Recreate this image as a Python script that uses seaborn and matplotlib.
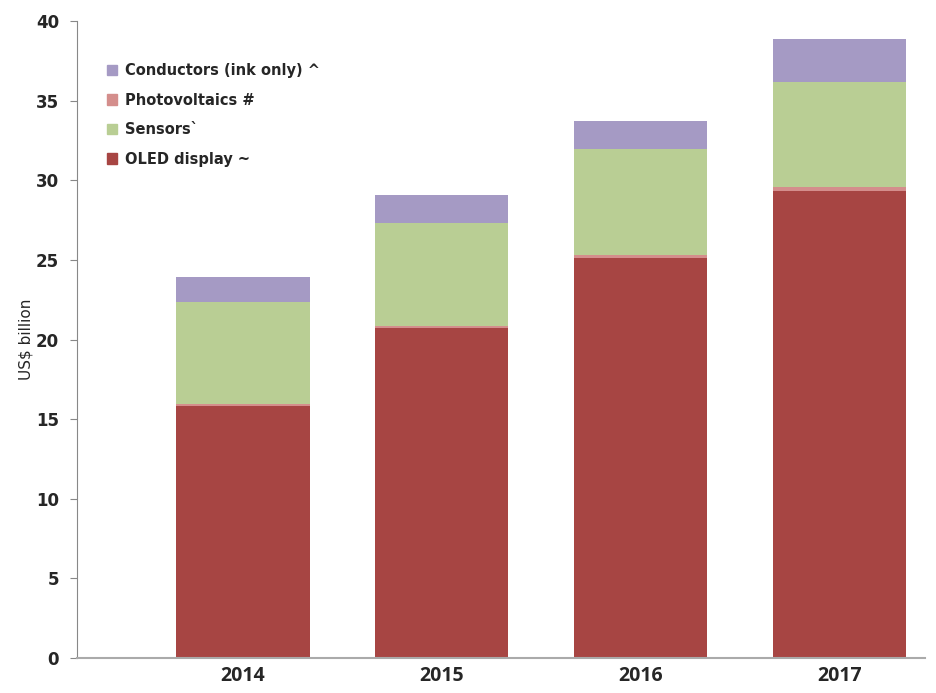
import matplotlib
matplotlib.use("Agg")
import matplotlib.pyplot as plt
import seaborn as sns
import numpy as np
import pandas as pd
from matplotlib.patches import Patch

years = ["2014", "2015", "2016", "2017"]
oled = [15.8, 20.7, 25.1, 29.3]
photovoltaics = [0.15, 0.15, 0.2, 0.3]
sensors = [6.4, 6.5, 6.65, 6.6]
conductors = [1.6, 1.7, 1.75, 2.65]

colors = {"OLED display ~": "#A74543", "Photovoltaics #": "#D48E8C",
          "Sensors`": "#B9CE94", "Conductors (ink only) ^": "#A59AC4"}

sns.set_style("white")
plt.rcParams['font.family'] = ['DejaVu Sans']

fig = plt.figure(figsize=(9.37, 6.93), dpi=100)
ax = fig.add_axes([0.0822, 0.0505, 0.905, 0.919])

stack_order = ["OLED display ~", "Photovoltaics #", "Sensors`", "Conductors (ink only) ^"]
vals = {"OLED display ~": oled, "Photovoltaics #": photovoltaics,
        "Sensors`": sensors, "Conductors (ink only) ^": conductors}
cum = np.zeros(len(years))
cums = {}
for name in stack_order:
    cum = cum + np.array(vals[name])
    cums[name] = cum.copy()

for name in reversed(stack_order):
    df = pd.DataFrame({"year": years, "value": cums[name]})
    sns.barplot(data=df, x="year", y="value", color=colors[name], width=0.67,
                saturation=1, ax=ax, linewidth=0, errorbar=None)

ax.set_xlim(-0.834, 3.43)
ax.set_ylim(0, 40)
ax.set_yticks(range(0, 41, 5))
ax.set_xlabel("")
ax.set_ylabel("US$ billion", fontsize=11, labelpad=2)
for s in ["top", "right"]:
    ax.spines[s].set_visible(False)
ax.spines["left"].set_color("#888888")
ax.spines["bottom"].set_color("#AAAAAA")
ax.spines["bottom"].set_linewidth(1.5)
ax.tick_params(axis="y", length=5, color="#888888", direction="out", left=True,
               labelsize=12, pad=8)
ax.tick_params(axis="x", length=0, labelsize=14, pad=6)
for lbl in ax.get_yticklabels():
    lbl.set_fontweight("bold")
for lbl in ax.get_xticklabels():
    lbl.set_fontweight("bold")
    lbl.set_family("Open Sans")

handles = [Patch(color=colors[n], label=n) for n in
           ["Conductors (ink only) ^", "Photovoltaics #", "Sensors`", "OLED display ~"]]
leg = ax.legend(handles=handles, loc="upper left", bbox_to_anchor=(0.02, 0.955),
                frameon=False, prop={"weight": "bold", "size": 10.5},
                handlelength=0.7, handleheight=0.7, handletextpad=0.5,
                labelspacing=1.0)

fig.savefig("out.png", dpi=100)
